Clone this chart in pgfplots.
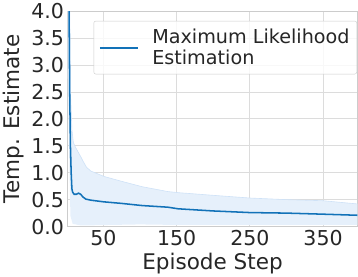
\documentclass[border=0pt]{standalone}
\usepackage{pgfplots}
\pgfplotsset{compat=1.18}
\usepackage{fontspec}
\setmainfont{DejaVu Sans}
\definecolor{mlblue}{HTML}{1272B8}
\definecolor{bandfill}{HTML}{E6F0FB}
\definecolor{bandedge}{HTML}{CFE2F7}
\definecolor{gridc}{HTML}{DCDCDC}
\definecolor{framec}{HTML}{CCCCCC}
\definecolor{textc}{HTML}{262626}
\begin{document}
\begin{tikzpicture}
\begin{axis}[
  scale only axis,
  width=282.7bp, height=210bp,
  at={(0,0)}, anchor=south west,
  xmin=1, xmax=397, ymin=0, ymax=4,
  xtick={50,150,250,350},
  ytick={0,0.5,1,1.5,2,2.5,3,3.5,4},
  yticklabel style={/pgf/number format/.cd,fixed,fixed zerofill,precision=1},
  /pgf/number format/assume math mode=true,
  tick label style={font=\fontsize{20bp}{22bp}\selectfont, text=textc},
  label style={font=\fontsize{21bp}{24bp}\selectfont, text=textc},
  xlabel={Episode Step},
  ylabel={Temp. Estimate},
  grid=major,
  major grid style={gridc, line width=0.8pt},
  axis line style={framec, line width=1pt},
  tick style={draw=none},
  legend style={at={(0.09,0.955)}, anchor=north west, draw=framec, rounded corners=2pt,
    fill=white, fill opacity=0.8, text opacity=1,
    font=\fontsize{18.7bp}{20bp}\selectfont, inner xsep=5bp, inner ysep=6bp,
    cells={align=left, anchor=west}},
  legend cell align=left,
  legend image code/.code={\draw[mark repeat=2,mark phase=2,#1] plot coordinates {(0bp,0bp) (18bp,0bp) (37bp,0bp)};},
  legend image post style={draw=mlblue, line width=2pt, sharp corners},
  /tikz/every even column/.append style={column sep=0bp},
]
\addplot[fill=bandfill, draw=none, forget plot] coordinates {
(1,8) (3,6) (5,2.5) (7,1.8) (9,1.56) (12,1.47) (19,1.3) (22,1.22) (27,1.1) (33,1.03) (51,0.93)
(75,0.84) (103,0.74) (138,0.65) (152,0.63) (200,0.58) (250,0.53) (300,0.5) (350,0.48) (397,0.42)
(397,0.03) (250,0.03) (150,0.03) (100,0.04) (60,0.03) (20,0.02) (8,0.05) (5,0.2) (3,1.5) (1,3)} -- cycle;
\addplot[draw=bandedge, line width=0.6pt, forget plot] coordinates {
(1,8) (3,6) (5,2.5) (7,1.8) (9,1.56) (12,1.47) (19,1.3) (22,1.22) (27,1.1) (33,1.03) (51,0.93)
(75,0.84) (103,0.74) (138,0.65) (152,0.63) (200,0.58) (250,0.53) (300,0.5) (350,0.48) (397,0.42)};
\addplot[mlblue, line width=1.5pt] coordinates {
(1,6) (3,4.2) (4,2.5) (5,1.5) (6,1.0) (7,0.7) (8,0.64) (10,0.6) (13,0.6) (16,0.62) (19,0.6)
(22,0.55) (26,0.51) (33,0.49) (50,0.46) (75,0.43) (103,0.39) (138,0.36) (152,0.33) (200,0.29)
(250,0.26) (300,0.25) (350,0.23) (397,0.21)};
\addlegendentry{\color{textc}\hspace{11bp}Maximum Likelihood\\\color{textc}\hspace{11bp}Estimation}
\end{axis}
\end{tikzpicture}
\end{document}
